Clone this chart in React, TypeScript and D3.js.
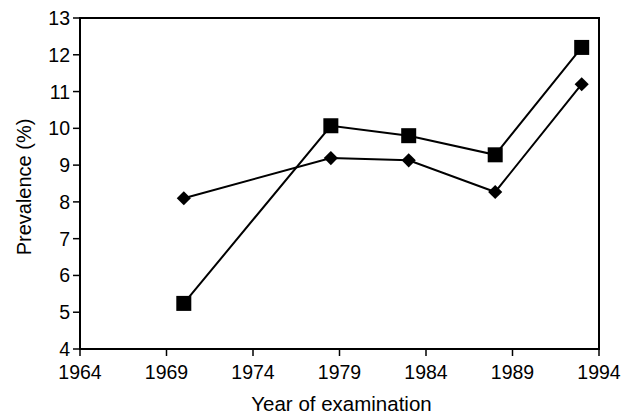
import React from 'react';
import * as d3 from 'd3';

const years = [1970, 1978.5, 1983, 1988, 1993];
const squareSeries = [5.24, 10.07, 9.8, 9.28, 12.2];
const diamondSeries = [8.1, 9.19, 9.13, 8.27, 11.2];
const xTicks = [1964, 1969, 1974, 1979, 1984, 1989, 1994];
const yTicks = [4, 5, 6, 7, 8, 9, 10, 11, 12, 13];

const width = 624;
const height = 416;
const margin = { top: 18, right: 25, bottom: 67, left: 80 };
const font = "'Liberation Sans', Arial, sans-serif";

const App = () => {
  const x = d3.scaleLinear().domain([1964, 1994]).range([margin.left, width - margin.right]);
  const y = d3.scaleLinear().domain([4, 13]).range([height - margin.bottom, margin.top]);

  const line = d3.line<number>()
    .x((_, i) => x(years[i]))
    .y(d => y(d));

  const x0 = x(1964), x1 = x(1994), y0 = y(4), y1 = y(13);

  return (
    <div style={{ position: 'absolute', left: 0, top: 0 }}>
      <svg width={width} height={height} style={{ display: 'block', background: '#fff' }}>
        {/* frame */}
        <rect x={x0} y={y1} width={x1 - x0} height={y0 - y1} fill="none" stroke="#000" strokeWidth={2} />

        {/* y axis ticks */}
        {yTicks.map(t => (
          <g key={'y' + t}>
            <line x1={x0 - 7} x2={x0} y1={y(t)} y2={y(t)} stroke="#000" strokeWidth={1.5} />
            <text x={x0 - 10} y={y(t)} dy="0.36em" textAnchor="end" fontFamily={font} fontSize={19.5}>{t}</text>
          </g>
        ))}

        {/* x axis ticks */}
        {xTicks.map(t => (
          <g key={'x' + t}>
            <line x1={x(t)} x2={x(t)} y1={y0} y2={y0 + 7} stroke="#000" strokeWidth={1.5} />
            <text x={x(t)} y={y0 + 30} textAnchor="middle" fontFamily={font} fontSize={19.5}>{t}</text>
          </g>
        ))}

        {/* series */}
        <path d={line(diamondSeries) || ''} fill="none" stroke="#000" strokeWidth={2} />
        <path d={line(squareSeries) || ''} fill="none" stroke="#000" strokeWidth={2} />

        {diamondSeries.map((v, i) => (
          <rect key={'d' + i} x={-5} y={-5} width={10} height={10} fill="#000"
            transform={`translate(${x(years[i])},${y(v)}) rotate(45)`} />
        ))}
        {squareSeries.map((v, i) => (
          <rect key={'s' + i} x={x(years[i]) - 7.5} y={y(v) - 7.5} width={15} height={15} fill="#000" />
        ))}

        {/* titles */}
        <text x={(x0 + x1) / 2 + 2} y={411} textAnchor="middle" fontFamily={font} fontSize={20.5}>Year of examination</text>
        <text transform={`translate(31,187) rotate(-90)`} textAnchor="middle" fontFamily={font} fontSize={20}>Prevalence (%)</text>
      </svg>
    </div>
  );
};

export default App;
